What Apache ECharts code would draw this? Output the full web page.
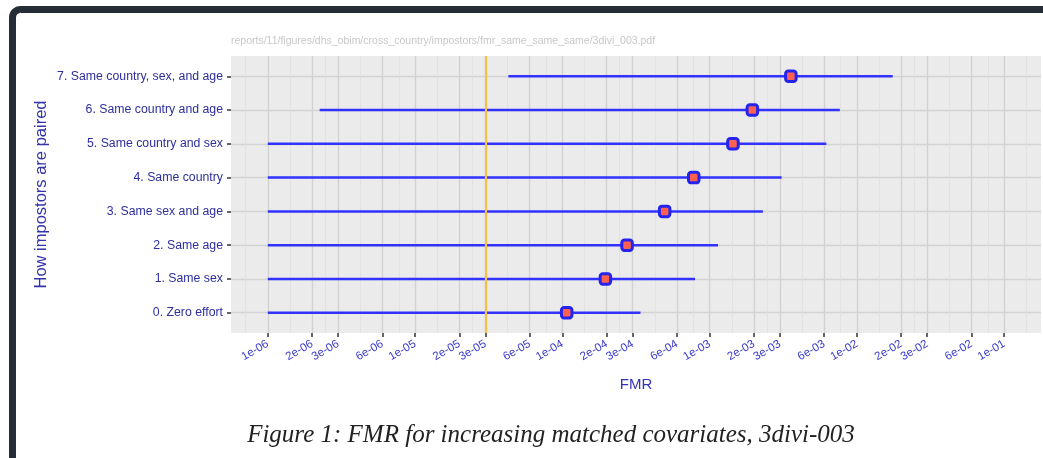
<!DOCTYPE html>
<html>
<head>
<meta charset="utf-8">
<script src="https://cdn.jsdelivr.net/npm/echarts@6/dist/echarts.min.js"></script>
<style>
html,body{margin:0;padding:0;background:#ffffff;}
#chart{width:1043px;height:458px;}
</style>
</head>
<body>
<div id="chart"></div>
<script>
// ---- data ----
var categories = ['0. Zero effort', '1. Same sex', '2. Same age', '3. Same sex and age',
  '4. Same country', '5. Same country and sex', '6. Same country and age', '7. Same country, sex, and age'];
var fmrValues = [1.07e-4, 1.96e-4, 2.75e-4, 4.95e-4, 7.8e-4, 1.44e-3, 1.95e-3, 3.56e-3];
var lowerValues = [1e-6, 1e-6, 1e-6, 1e-6, 1e-6, 1e-6, 2.25e-6, 4.3e-5];
var upperValues = [3.39e-4, 7.96e-4, 1.14e-3, 2.30e-3, 3.08e-3, 6.2e-3, 7.66e-3, 1.75e-2];
var thresholdValue = 3e-5;
var xTickLabels = ['1e-06', '2e-06', '3e-06', '6e-06', '1e-05', '2e-05', '3e-05', '6e-05',
  '1e-04', '2e-04', '3e-04', '6e-04', '1e-03', '2e-03', '3e-03', '6e-03',
  '1e-02', '2e-02', '3e-02', '6e-02', '1e-01'];
var xLimits = [1e-6, 1e-1];
var headerText = 'reports/11/figures/dhs_obim/cross_country/impostors/fmr_same_same_same/3divi_003.pdf';
var captionText = 'Figure 1: FMR for increasing matched covariates, 3divi-003';

// ---- derived (log10 space) ----
function lg(v) { return Math.log10(v); }
var majorLog = xTickLabels.map(function (t) { return lg(parseFloat(t)); });
var span = lg(xLimits[1]) - lg(xLimits[0]);
var xMin = lg(xLimits[0]) - 0.05 * span;
var xMax = lg(xLimits[1]) + 0.05 * span;
var ext = [majorLog[0] - (majorLog[1] - majorLog[0])].concat(majorLog, [majorLog[majorLog.length - 1] + (majorLog[1] - majorLog[0])]);
var minorLog = [];
for (var i = 0; i < ext.length - 1; i++) {
  var m = (ext[i] + ext[i + 1]) / 2;
  if (m > xMin && m < xMax) minorLog.push(m);
}
var catIdx = categories.map(function (c, i) { return i; });
var barData = categories.map(function (c, i) { return [lg(lowerValues[i]), lg(upperValues[i]), i]; });
var pointData = categories.map(function (c, i) { return [lg(fmrValues[i]), i]; });

function nearestLabel(v) {
  var best = 0, bd = 1e9;
  for (var i = 0; i < majorLog.length; i++) {
    var d = Math.abs(majorLog[i] - v);
    if (d < bd) { bd = d; best = i; }
  }
  return xTickLabels[best];
}

var chart = echarts.init(document.getElementById('chart'), null, { renderer: 'canvas' });
var option = {
  animation: false,
  backgroundColor: '#ffffff',
  grid: { left: 231, right: 2, top: 56, bottom: 125, show: true, backgroundColor: '#ebebeb', borderWidth: 0 },
  xAxis: [{
    type: 'value', min: xMin, max: xMax,
    name: 'FMR', nameLocation: 'middle', nameGap: 44,
    nameTextStyle: { color: '#3333bb', fontSize: 15, fontFamily: 'Liberation Sans' },
    axisLine: { show: false, onZero: false },
    axisTick: { show: true, customValues: majorLog, length: 4, lineStyle: { color: '#333333', width: 1.5 } },
    axisLabel: {
      customValues: majorLog, rotate: 30, margin: 10, color: '#3a3acc',
      fontSize: 11.5, fontFamily: 'Liberation Sans',
      formatter: function (v) { return nearestLabel(v); }
    },
    splitLine: { show: true, lineStyle: { color: '#d2d2d2', width: 1.4 } }
  }, {
    type: 'value', min: xMin, max: xMax, position: 'bottom',
    axisLine: { show: false, onZero: false }, axisLabel: { show: false },
    axisTick: { show: false, customValues: minorLog },
    splitLine: { show: true, lineStyle: { color: '#dfdfdf', width: 0.8 } }
  }],
  yAxis: {
    type: 'value', min: -0.6, max: 7.6,
    name: 'How impostors are paired', nameLocation: 'middle', nameGap: 181, nameRotate: 90,
    nameMoveOverlap: false,
    nameTextStyle: { color: '#3333aa', fontSize: 16.5, fontFamily: 'Liberation Sans' },
    axisLine: { show: false, onZero: false },
    axisTick: { show: true, customValues: catIdx, length: 4, lineStyle: { color: '#333333', width: 1.5 } },
    axisLabel: {
      customValues: catIdx, margin: 8, color: '#2e2e9e', fontSize: 12.3, fontFamily: 'Liberation Sans',
      formatter: function (v) { return categories[Math.round(v)]; }
    },
    splitLine: { show: true, lineStyle: { color: '#d2d2d2', width: 1.4 } }
  },
  series: [{
    type: 'custom',
    z: 3,
    data: barData,
    encode: { x: [0, 1], y: 2 },
    renderItem: function (params, api) {
      var p1 = api.coord([api.value(0), api.value(2)]);
      var p2 = api.coord([api.value(1), api.value(2)]);
      return { type: 'line', shape: { x1: p1[0], y1: p1[1], x2: p2[0], y2: p2[1] },
        style: { stroke: '#3232ff', lineWidth: 2.5 } };
    }
  }, {
    type: 'scatter',
    z: 5,
    data: pointData,
    symbol: 'roundRect',
    symbolSize: 10.5,
    itemStyle: { color: '#ff6050', borderColor: '#2424ee', borderWidth: 3, opacity: 1 },
    markLine: {
      silent: true, symbol: 'none', z: 4,
      label: { show: false },
      lineStyle: { color: '#f7bf45', width: 2.2, type: 'solid' },
      data: [{ xAxis: lg(thresholdValue) }]
    }
  }],
  graphic: [{
    type: 'rect', z: 100,
    shape: { x: 12.5, y: 9.5, width: 1100, height: 500, r: 8 },
    style: { fill: 'none', stroke: '#272d37', lineWidth: 7 }
  }, {
    type: 'text', left: 231, top: 36, z: 100,
    style: { text: headerText, fill: '#c8c8c8', font: '10.5px "Liberation Sans"' }
  }, {
    type: 'text', x: 551, y: 435, z: 100,
    style: { text: captionText, fill: '#222222', font: 'italic 25px "Liberation Serif"', textAlign: 'center', textVerticalAlign: 'middle' }
  }]
};
chart.setOption(option);
</script>
</body>
</html>
